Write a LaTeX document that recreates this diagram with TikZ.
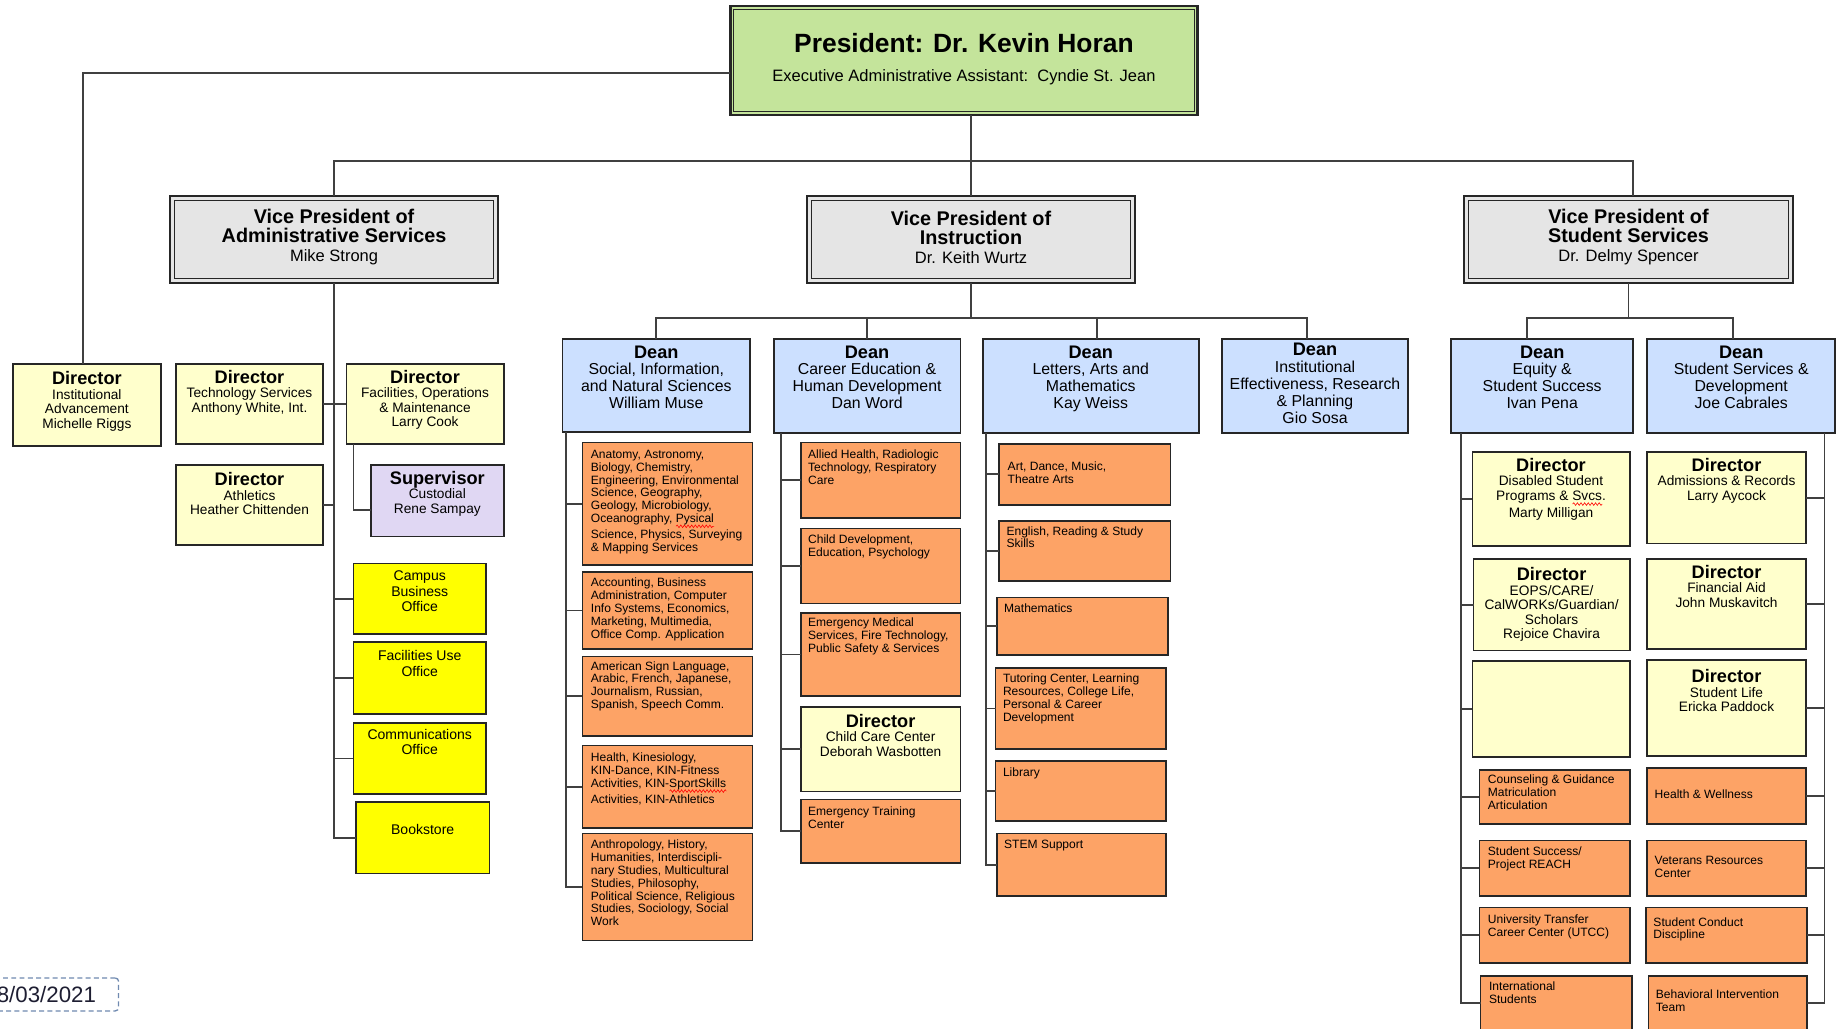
\documentclass[tikz,border=0pt]{standalone}
\usepackage{fontspec}
\setmainfont{Liberation Sans}
\usetikzlibrary{fit,decorations.pathmorphing}

\definecolor{presgreen}{RGB}{196,228,155}
\definecolor{vpgrey}{RGB}{229,229,229}
\definecolor{deanblue}{RGB}{204,224,255}
\definecolor{dirpale}{RGB}{255,255,204}
\definecolor{suplilac}{RGB}{224,215,243}
\definecolor{officeyellow}{RGB}{255,255,0}
\definecolor{unitorange}{RGB}{253,163,102}
\definecolor{datebox}{RGB}{112,138,176}
\definecolor{datetext}{RGB}{30,30,50}

% red spell-check wave under a word
\newlength\spellwd
\newcommand\spellmark[1]{\settowidth\spellwd{#1}\rlap{\raisebox{-2.2pt}{\tikz[baseline=0pt]\draw[red, line width=0.35pt, decorate, decoration={snake, amplitude=0.8pt, segment length=2.2pt}] (0pt,0pt) -- (\spellwd,0pt);}}#1}
\newcommand\boxhead[1]{{\fontsize{11}{12}\selectfont\bfseries #1}}
\newcommand\vphead[1]{{\fontsize{12}{13}\selectfont\bfseries #1}}

\tikzset{
  orgbox/.style={draw=black!85, line width=1pt, inner sep=0pt, outer sep=0pt},
  presbox/.style={orgbox, fill=presgreen, line width=1.5pt},
  vpbox/.style={orgbox, fill=vpgrey, line width=1.2pt},
  deanbox/.style={orgbox, fill=deanblue},
  dirbox/.style={orgbox, fill=dirpale},
  supbox/.style={orgbox, fill=suplilac},
  officebox/.style={orgbox, fill=officeyellow},
  unitbox/.style={orgbox, fill=unitorange},
  link/.style={draw=black!75, line width=1.1pt},
  vptext/.style={align=center, inner sep=0pt, font=\fontsize{10}{11.4}\selectfont},
  deantext/.style={anchor=north, align=center, inner sep=0pt, font=\fontsize{9.6}{10.2}\selectfont},
  dirtext/.style={anchor=north, align=center, inner sep=0pt, font=\fontsize{8.3}{8.8}\selectfont},
  officetext/.style={anchor=north, align=center, inner sep=0pt, font=\fontsize{8.5}{9.3}\selectfont},
  unittext/.style={anchor=north west, align=left, inner sep=0pt, font=\fontsize{7.3}{7.8}\selectfont},
}

\begin{document}
\begin{tikzpicture}[x=0.25mm,y=-0.25mm]
\fill[white, use as bounding box] (0,0) rectangle (1568,876);

% president and vice presidents
\node[presbox, fit={(622,5) (1020,98)}] (pres) {};
\draw[black!85, line width=0.6pt] ([shift={(3,3)}]pres.north west) rectangle ([shift={(-3,-3)}]pres.south east);
\node[font=\fontsize{16}{18}\selectfont\bfseries] (prestitle) at (821,37) {President: Dr. Kevin Horan};
\node[font=\fontsize{10}{12}\selectfont] (presasst) at (821,66) {Executive Administrative Assistant:\ \ Cyndie St. Jean};

\node[vpbox, fit={(145,167) (424,241)}] (vpadm) {};
\node[vpbox, fit={(687,167) (967,241)}] (vpins) {};
\node[vpbox, fit={(1247,167) (1527,241)}] (vpstu) {};
\foreach \b in {vpadm,vpins,vpstu}
  \draw[black!85, line width=0.6pt] ([shift={(4,4)}]\b.north west) rectangle ([shift={(-4,-4)}]\b.south east);
\node[vptext] (vpadmtext) at ([shift={(0,-2)}]vpadm.center) {\vphead{Vice President of}\\\vphead{Administrative Services}\\Mike Strong};
\node[vptext] (vpinstext) at ([shift={(0,-2)}]vpins.center) {\vphead{Vice President of}\\\vphead{Instruction}\\Dr. Keith Wurtz};
\node[vptext] (vpstutext) at ([shift={(0,-2)}]vpstu.center) {\vphead{Vice President of}\\\vphead{Student Services}\\Dr. Delmy Spencer};

% administrative services
\node[dirbox, fit={(11,310) (137,380)}] (instadv) {};
\node[dirtext] at ([shift={(0,6)}]instadv.north) {\boxhead{Director}\\Institutional\\Advancement\\Michelle Riggs};
\node[dirbox, fit={(150,310) (275,378)}] (tech) {};
\node[dirtext] at ([shift={(0,5)}]tech.north) {\boxhead{Director}\\Technology Services\\Anthony White, Int.};
\node[dirbox, fit={(295,310) (429,378)}] (fac) {};
\node[dirtext] at ([shift={(0,5)}]fac.north) {\boxhead{Director}\\Facilities, Operations\\\& Maintenance\\Larry Cook};
\node[dirbox, fit={(150,396) (275,464)}] (ath) {};
\node[dirtext] at ([shift={(0,6)}]ath.north) {\boxhead{Director}\\Athletics\\Heather Chittenden};
\node[supbox, fit={(316,396) (429,457)}] (sup) {};
\node[dirtext] at ([shift={(0,5)}]sup.north) {\boxhead{Supervisor}\\Custodial\\Rene Sampay};

\node[officebox, fit={(301,480) (414,540)}] (camp) {};
\node[officetext] at ([shift={(0,6)}]camp.north) {Campus\\Business\\Office};
\node[officebox, fit={(301,547) (414,608)}] (facuse) {};
\node[officetext] at ([shift={(0,7)}]facuse.north) {Facilities Use\\Office};
\node[officebox, fit={(301,616) (414,676)}] (comm) {};
\node[officetext] at ([shift={(0,5)}]comm.north) {Communications\\Office};
\node[officebox, fit={(303,683) (417,744)}] (book) {};
\node[officetext] at ([shift={(0,19)}]book.north) {Bookstore};

% instruction deans
\node[deanbox, fit={(479,289) (639,368)}] (social) {};
\node[deantext] at ([shift={(0,5)}]social.north) {\boxhead{Dean}\\Social, Information,\\and Natural Sciences\\William Muse};
\node[deanbox, fit={(659,289) (818,369)}] (career) {};
\node[deantext] at ([shift={(0,5)}]career.north) {\boxhead{Dean}\\Career Education \&\\Human Development\\Dan Word};
\node[deanbox, fit={(837,289) (1021,369)}] (letters) {};
\node[deantext] at ([shift={(0,5)}]letters.north) {\boxhead{Dean}\\Letters, Arts and\\Mathematics\\Kay Weiss};
\node[deanbox, fit={(1041,289) (1199,369)}] (research) {};
\node[deantext] at ([shift={(0,3)}]research.north) {\boxhead{Dean}\\Institutional\\Effectiveness, Research\\\& Planning\\Gio Sosa};

\node[unitbox, fit={(496,377) (641,481)}] (anat) {};
\node[unittext] at ([shift={(7,6)}]anat.north west) {Anatomy, Astronomy,\\Biology, Chemistry,\\Engineering, Environmental\\Science, Geography,\\Geology, Microbiology,\\Oceanography, \spellmark{Pysical}\\Science, Physics, Surveying\\\& Mapping Services};
\node[unitbox, fit={(496,487) (641,553)}] (acct) {};
\node[unittext] at ([shift={(7,5)}]acct.north west) {Accounting, Business\\Administration, Computer\\Info Systems, Economics,\\Marketing, Multimedia,\\Office Comp. Application};
\node[unitbox, fit={(496,559) (641,627)}] (asl) {};
\node[unittext] at ([shift={(7,4)}]asl.north west) {American Sign Language,\\Arabic, French, Japanese,\\Journalism, Russian,\\Spanish, Speech Comm.};
\node[unitbox, fit={(496,635) (641,705)}] (health) {};
\node[unittext] at ([shift={(7,6)}]health.north west) {Health, Kinesiology,\\KIN-Dance, KIN-Fitness\\Activities, KIN-\spellmark{SportSkills}\\Activities, KIN-Athletics};
\node[unitbox, fit={(496,710) (641,801)}] (anthro) {};
\node[unittext] at ([shift={(7,5)}]anthro.north west) {Anthropology, History,\\Humanities, Interdiscipli-\\nary Studies, Multicultural\\Studies, Philosophy,\\Political Science, Religious\\Studies, Sociology, Social\\Work};

\node[unitbox, fit={(682,377) (818,441)}] (allied) {};
\node[unittext] at ([shift={(6,6)}]allied.north west) {Allied Health, Radiologic\\Technology, Respiratory\\Care};
\node[unitbox, fit={(682,450) (818,514)}] (childdev) {};
\node[unittext] at ([shift={(6,5)}]childdev.north west) {Child Development,\\Education, Psychology};
\node[unitbox, fit={(682,522) (818,593)}] (ems) {};
\node[unittext] at ([shift={(6,4)}]ems.north west) {Emergency Medical\\Services, Fire Technology,\\Public Safety \& Services};
\node[dirbox, fit={(682,602) (818,674)}] (childcare) {};
\node[dirtext] at ([shift={(0,6)}]childcare.north) {\boxhead{Director}\\Child Care Center\\Deborah Wasbotten};
\node[unitbox, fit={(682,681) (818,735)}] (etc) {};
\node[unittext] at ([shift={(6,6)}]etc.north west) {Emergency Training\\Center};

\node[unitbox, fit={(851,378) (997,430)}] (art) {};
\node[unittext] at ([shift={(7,15)}]art.north west) {Art, Dance, Music,\\Theatre Arts};
\node[unitbox, fit={(851,444) (997,495)}] (english) {};
\node[unittext] at ([shift={(6,4)}]english.north west) {English, Reading \& Study\\Skills};
\node[unitbox, fit={(849,509) (995,558)}] (math) {};
\node[unittext] at ([shift={(6,5)}]math.north west) {Mathematics};
\node[unitbox, fit={(848,569) (993,638)}] (tutor) {};
\node[unittext] at ([shift={(6,5)}]tutor.north west) {Tutoring Center, Learning\\Resources, College Life,\\Personal \& Career\\Development};
\node[unitbox, fit={(848,648) (993,699)}] (library) {};
\node[unittext] at ([shift={(6,6)}]library.north west) {Library};
\node[unitbox, fit={(849,710) (993,763)}] (stem) {};
\node[unittext] at ([shift={(6,5)}]stem.north west) {STEM Support};

% student services deans
\node[deanbox, fit={(1236,289) (1391,369)}] (equity) {};
\node[deantext] at ([shift={(0,5)}]equity.north) {\boxhead{Dean}\\Equity \&\\Student Success\\Ivan Pena};
\node[deanbox, fit={(1403,289) (1563,369)}] (stuserv) {};
\node[deantext] at ([shift={(0,5)}]stuserv.north) {\boxhead{Dean}\\Student Services \&\\Development\\Joe Cabrales};

\node[dirbox, fit={(1254,385) (1388,465)}] (dsps) {};
\node[dirtext] at ([shift={(0,5)}]dsps.north) {\boxhead{Director}\\Disabled Student\\Programs \& \spellmark{Svcs}.\\Marty Milligan};
\node[dirbox, fit={(1255,476) (1388,554)}] (eops) {};
\node[dirtext] at ([shift={(0,7)}]eops.north) {\boxhead{Director}\\EOPS/CARE/\\CalWORKs/Guardian/\\Scholars\\Rejoice Chavira};
\node[dirbox, fit={(1254,563) (1388,645)}] (vacant) {};
\node[unitbox, fit={(1260,656) (1388,702)}] (counsel) {};
\node[unittext] at ([shift={(7,4)}]counsel.north west) {Counseling \& Guidance\\Matriculation\\Articulation};
\node[unitbox, fit={(1260,716) (1388,763)}] (reach) {};
\node[unittext] at ([shift={(7,5)}]reach.north west) {Student Success/\\Project REACH};
\node[unitbox, fit={(1260,773) (1388,820)}] (utcc) {};
\node[unittext] at ([shift={(7,6)}]utcc.north west) {University Transfer\\Career Center (UTCC)};
\node[unitbox, fit={(1261,831) (1390,878)}] (intl) {};
\node[unittext] at ([shift={(7,5)}]intl.north west) {International\\Students};

\node[dirbox, fit={(1403,385) (1538,463)}] (admrec) {};
\node[dirtext] at ([shift={(0,5)}]admrec.north) {\boxhead{Director}\\Admissions \& Records\\Larry Aycock};
\node[dirbox, fit={(1403,476) (1538,553)}] (finaid) {};
\node[dirtext] at ([shift={(0,5)}]finaid.north) {\boxhead{Director}\\Financial Aid\\John Muskavitch};
\node[dirbox, fit={(1403,562) (1538,644)}] (stulife) {};
\node[dirtext] at ([shift={(0,8)}]stulife.north) {\boxhead{Director}\\Student Life\\Ericka Paddock};
\node[unitbox, fit={(1403,654) (1538,702)}] (wellness) {};
\node[unittext] at ([shift={(6,18)}]wellness.north west) {Health \& Wellness};
\node[unitbox, fit={(1403,716) (1538,763)}] (veterans) {};
\node[unittext] at ([shift={(6,13)}]veterans.north west) {Veterans Resources\\Center};
\node[unitbox, fit={(1402,773) (1539,820)}] (conduct) {};
\node[unittext] at ([shift={(6,8)}]conduct.north west) {Student Conduct\\Discipline};
\node[unitbox, fit={(1404,831) (1539,878)}] (behav) {};
\node[unittext] at ([shift={(6,12)}]behav.north west) {Behavioral Intervention\\Team};

% date stamp
\node[orgbox, draw=datebox, line width=0.8pt, dash pattern=on 3pt off 2pt, rounded corners=2pt, fit={(-20,833) (101,861)}] (stamp) {};
\node[anchor=east, inner sep=0pt, font=\fontsize{13.5}{15}\selectfont, text=datetext] (date) at (82,847) {8/03/2021};

% connectors
\draw[link] (pres.south -| vpins.north) -- (vpins.north);
\draw[link] (vpadm.north) -- ++(0,-30) -| ([shift={(4,0)}]vpstu.north);
\draw[link] ([shift={(0,11)}]pres.west) -| ([shift={(-3,0)}]instadv.north);

\draw[link] (vpadm.south) |- (book.west);
\foreach \n in {camp,facuse,comm}
  \draw[link] (\n.west) -- (\n.west -| vpadm.south);
\draw[link] (tech.east) -- (fac.west);
\draw[link] (ath.east) -- (ath.east -| vpadm.south);
\draw[link] ([shift={(6,0)}]fac.south west) |- ([shift={(0,8)}]sup.west);

\draw[link] (vpins.south) -- ++(0,30) coordinate (insbar);
\draw[link] (social.north) |- (insbar) -| ([shift={(-7,0)}]research.north);
\draw[link] (career.north) -- (career.north |- insbar);
\draw[link] ([shift={(5,0)}]letters.north) -- ([shift={(5,0)}]letters.north |- insbar);

\coordinate (soctrunk) at ([shift={(3,0)}]social.south west);
\draw[link] (soctrunk) |- (anthro.west);
\foreach \n in {anat,acct,asl,health}
  \draw[link] (\n.west) -- (\n.west -| soctrunk);
\coordinate (cartrunk) at ([shift={(6.5,0)}]career.south west);
\draw[link] (cartrunk) |- (etc.west);
\foreach \n in {allied,childdev,ems,childcare}
  \draw[link] (\n.west) -- (\n.west -| cartrunk);
\coordinate (lettrunk) at ([shift={(3,0)}]letters.south west);
\draw[link] (lettrunk) |- (stem.west);
\foreach \n in {art,english,math,tutor,library}
  \draw[link] (\n.west) -- (\n.west -| lettrunk);

\draw[link] (vpstu.south) -- ++(0,30) coordinate (stubar);
\draw[link] ([shift={(-13,0)}]equity.north) |- (stubar) -| ([shift={(-7,0)}]stuserv.north);
\coordinate (eqtrunk) at ([shift={(8,0)}]equity.south west);
\draw[link] (eqtrunk) |- (intl.west);
\foreach \n in {dsps,eops,vacant,counsel,reach,utcc}
  \draw[link] (\n.west) -- (\n.west -| eqtrunk);
\coordinate (sstrunk) at ([shift={(-9,0)}]stuserv.south east);
\draw[link] (sstrunk) |- (behav.east);
\foreach \n in {admrec,finaid,stulife,wellness,veterans,conduct}
  \draw[link] (\n.east) -- (\n.east -| sstrunk);
\end{tikzpicture}
\end{document}
